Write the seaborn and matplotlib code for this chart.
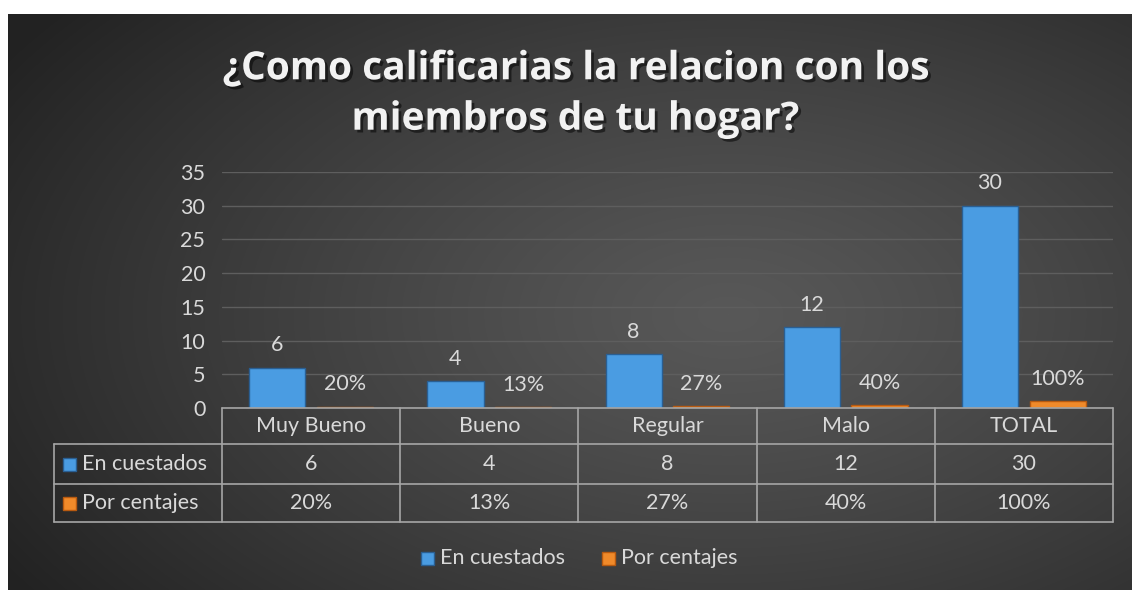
import numpy as np
import pandas as pd
import matplotlib.pyplot as plt
import matplotlib.patheffects as pe
import matplotlib.transforms as mtransforms
from matplotlib.patches import Rectangle
import seaborn as sns

# Data
categorias = ['Muy Bueno', 'Bueno', 'Regular', 'Malo', 'TOTAL']
encuestados = [6, 4, 8, 12, 30]
porcentajes = [0.20, 0.13, 0.27, 0.40, 1.00]
pct_labels = ['20%', '13%', '27%', '40%', '100%']
series = ['En cuestados', 'Por centajes']
yticks = [0, 5, 10, 15, 20, 25, 30, 35]

blue = '#4a9ce2'
orange = '#f08a2a'
txt = '#d9d9d9'

df = pd.DataFrame({
    'categoria': categorias * 2,
    'valor': encuestados + porcentajes,
    'serie': [series[0]] * 5 + [series[1]] * 5,
})

sns.set_theme(style='dark')
plt.rcParams['font.family'] = ['Lato', 'DejaVu Sans']

W, H = 1132, 590
fig = plt.figure(figsize=(W / 100, H / 100), dpi=100, facecolor='white')

# dark radial gradient background
bg = fig.add_axes([8 / W, 0, 1 - 8 / W, 1 - 14 / H])
yy, xx = np.mgrid[0:576, 0:1124]
d = np.sqrt(((xx - 720) / 900) ** 2 + ((yy - 300) / 520) ** 2)
d = np.clip(d / 0.95, 0, 1)
c0, c1 = 0x58 / 255, 0x22 / 255
g = c0 + (c1 - c0) * d ** 1.2
bg.imshow(np.dstack([g, g, g]), aspect='auto', extent=[0, 1, 0, 1])
bg.set_axis_off()

x0, x1 = 222 / W, 1113 / W
y0, y1 = 1 - 408 / H, 1 - 172 / H
ax = fig.add_axes([x0, y0, x1 - x0, y1 - y0])
ax.set_facecolor('none')

sns.barplot(data=df, x='categoria', y='valor', hue='serie', order=categorias,
            hue_order=series, palette=[blue, orange], width=0.76, gap=0.17,
            ax=ax, legend=False, saturation=1)

for bar, s in zip(ax.patches, [0] * 5 + [1] * 5):
    bar.set_edgecolor('#2a5f93' if s == 0 else '#b85a10')
    bar.set_linewidth(1.0)

# data labels
for i, c in enumerate(ax.containers):
    labels = [str(v) for v in encuestados] if i == 0 else pct_labels
    ax.bar_label(c, labels=labels, padding=9, color=txt, fontsize=15.5)

ax.set_ylim(0, 35)
ax.set_xlim(-0.5, 4.5)
ax.set_yticks(yticks)
ax.set_yticklabels([str(t) for t in yticks], color=txt, fontsize=15.5)
ax.tick_params(axis='y', length=0, pad=12)
ax.set_xticks([])
ax.set_xlabel('')
ax.set_ylabel('')
ax.grid(axis='y', color='#5e5e5e', linewidth=1)
ax.set_axisbelow(True)
for sp in ax.spines.values():
    sp.set_visible(False)

# data table below the plot
line_c = '#a6a6a6'
tr = mtransforms.blended_transform_factory(ax.transData, fig.transFigure)
def fy(p):
    return 1 - p / H
rows_y = [408, 444, 484, 522]
xl = -0.5 - (222 - 54) / (891 / 5)
for k, yl in enumerate(rows_y):
    xa = -0.5 if k == 0 else xl
    ax.plot([xa, 4.5], [fy(yl)] * 2, transform=tr, color=line_c, lw=1.2, clip_on=False)
for b in np.arange(-0.5, 5, 1):
    ax.plot([b, b], [fy(408), fy(522)], transform=tr, color=line_c, lw=1.2, clip_on=False)
ax.plot([xl, xl], [fy(444), fy(522)], transform=tr, color=line_c, lw=1.2, clip_on=False)

for i, cat in enumerate(categorias):
    ax.text(i, fy(426), cat, transform=tr, ha='center', va='center', color=txt, fontsize=15.5)
    ax.text(i, fy(464), str(encuestados[i]), transform=tr, ha='center', va='center', color=txt, fontsize=15.5)
    ax.text(i, fy(503), pct_labels[i], transform=tr, ha='center', va='center', color=txt, fontsize=15.5)

for name, col, ec, yp in [(series[0], blue, '#2a5f93', 464), (series[1], orange, '#b85a10', 503)]:
    fig.patches.append(Rectangle((63 / W, fy(yp) - 6.5 / H), 13 / W, 13 / H, transform=fig.transFigure,
                                 facecolor=col, edgecolor=ec, lw=1))
    fig.text(82 / W, fy(yp), name, ha='left', va='center', color=txt, fontsize=15.5)

# legend at bottom
for name, col, ec, xp in [(series[0], blue, '#2a5f93', 421), (series[1], orange, '#b85a10', 602)]:
    fig.patches.append(Rectangle((xp / W, fy(558) - 6.5 / H), 13 / W, 13 / H, transform=fig.transFigure,
                                 facecolor=col, edgecolor=ec, lw=1))
    fig.text((xp + 19) / W, fy(558), name, ha='left', va='center', color=txt, fontsize=15.5)

# title
fig.text(575 / W, fy(94), '¿Como calificarias la relacion con los\nmiembros de tu hogar?',
         ha='center', va='center', color='#f2f2f2', fontsize=28, fontweight='bold',
         family=['Open Sans', 'DejaVu Sans'], linespacing=1.38,
         path_effects=[pe.SimplePatchShadow(offset=(2, -2), shadow_rgbFace='black', alpha=0.5), pe.Normal()])

fig.savefig('out.png', dpi=100, facecolor='white')
